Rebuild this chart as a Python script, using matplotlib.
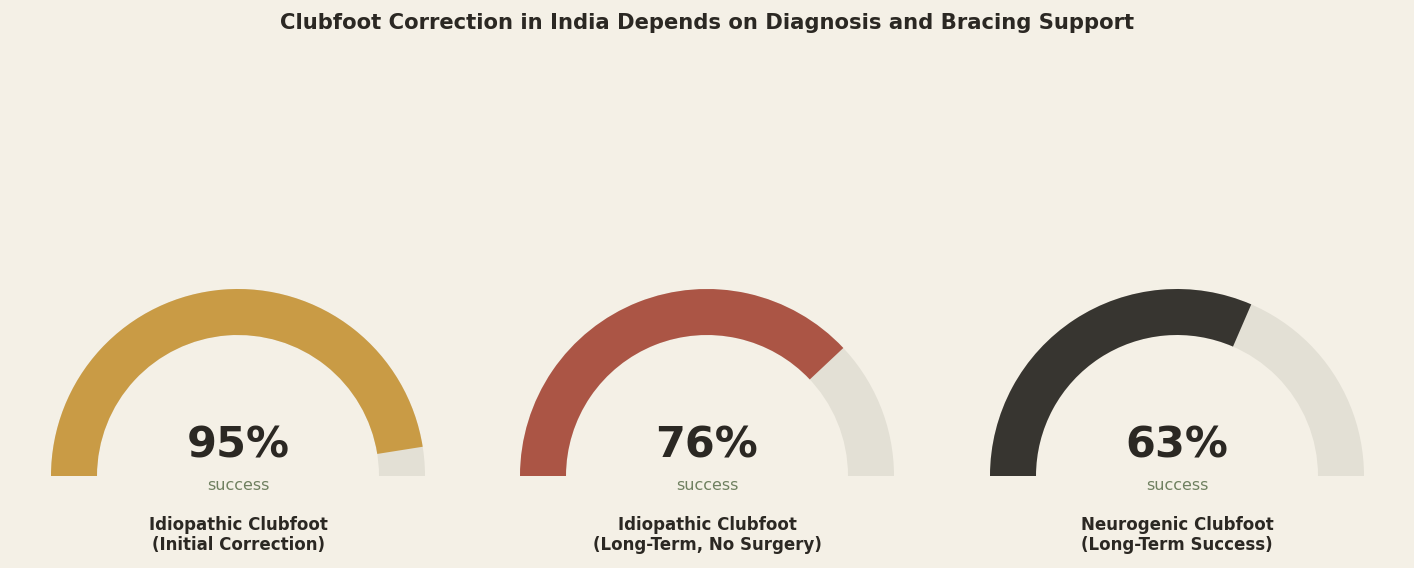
import matplotlib
matplotlib.use("Agg")
import matplotlib.pyplot as plt
from matplotlib.patches import Wedge

plt.rcParams["font.family"] = ["DejaVu Sans"]

categories = ["Idiopathic Clubfoot\n(Initial Correction)",
              "Idiopathic Clubfoot\n(Long-Term, No Surgery)",
              "Neurogenic Clubfoot\n(Long-Term Success)"]
values = [95, 76, 63]
colors = ["#C99B45", "#AB5545", "#373530"]
track_color = "#E3E0D5"
bg = "#F4F0E6"
text_dark = "#2B2823"
sub_color = "#6F8060"

W, H = 1414, 568
fig = plt.figure(figsize=(W / 100, H / 100), dpi=100, facecolor=bg)

centers_px = [238, 707, 1177]
cy_top = 476
R = 187.0
ax_w = 470
ax_h = 300
cy_b = H - cy_top

for cx, cat, val, col in zip(centers_px, categories, values, colors):
    ax = fig.add_axes([(cx - ax_w / 2) / W, 0, ax_w / W, ax_h / H])
    ax.set_facecolor(bg)
    ax.set_xlim(-ax_w / 2 / R, ax_w / 2 / R)
    ax.set_ylim(-cy_b / R, (ax_h - cy_b) / R)
    ax.axis("off")
    ang = 180 - 180 * val / 100.0
    ax.add_patch(Wedge((0, 0), 1.0, 0, 180, width=0.246, facecolor=track_color, edgecolor="none"))
    ax.add_patch(Wedge((0, 0), 1.0, ang, 180, width=0.246, facecolor=col, edgecolor="none"))
    ax.text(0, 30 / R, f"{val}%", ha="center", va="center", fontsize=31,
            fontweight="bold", color=text_dark)
    ax.text(0, -9 / R, "success", ha="center", va="center", fontsize=11.5,
            color=sub_color)
    ax.text(0, -59 / R, cat, ha="center", va="center", fontsize=12,
            fontweight="bold", color=text_dark, linespacing=1.2)

fig.text(0.5, 1 - 23 / H, "Clubfoot Correction in India Depends on Diagnosis and Bracing Support",
         ha="center", va="center", fontsize=15.25, fontweight="bold", color=text_dark)

fig.savefig("out.png", dpi=100, facecolor=bg)
